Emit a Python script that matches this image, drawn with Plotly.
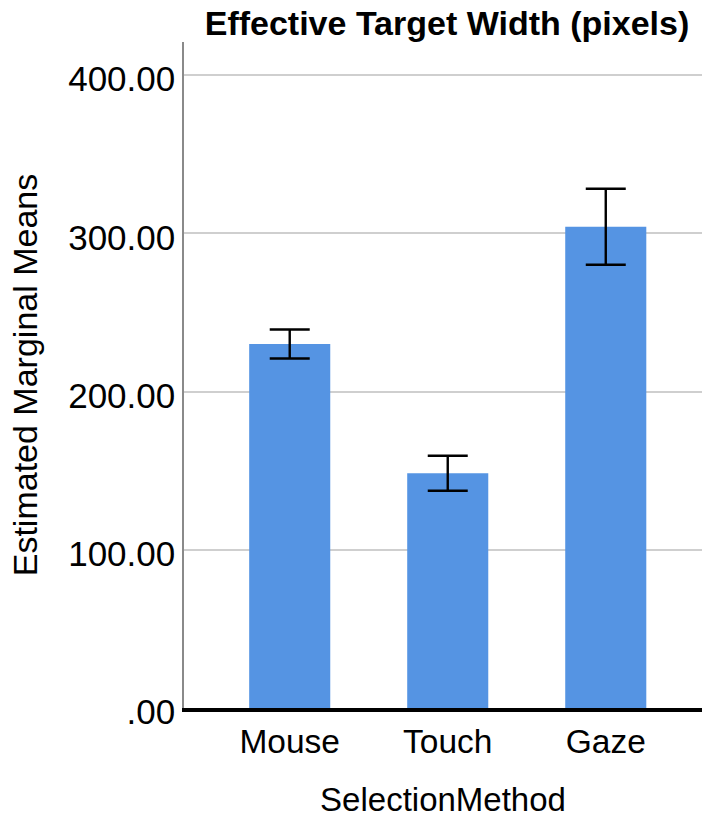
import plotly.graph_objects as go

# Estimated marginal means of effective target width by selection method
methods = ["Mouse", "Touch", "Gaze"]
means = [230.1, 148.4, 304.2]
ci_half = [9.2, 11.1, 24.0]

y_tick_vals = [0, 100, 200, 300, 400]
y_tick_text = [".00", "100.00", "200.00", "300.00", "400.00"]

FONT = "Liberation Sans, Arial, sans-serif"

fig = go.Figure()
fig.add_trace(go.Bar(
    x=methods,
    y=means,
    width=0.513,
    marker=dict(color="#5594E3", line=dict(width=0)),
    error_y=dict(type="data", array=ci_half, visible=True,
                 color="black", thickness=2.4, width=20),
))

fig.update_layout(
    width=702, height=818,
    margin=dict(l=184, r=0, t=42, b=110),
    paper_bgcolor="white", plot_bgcolor="white",
    showlegend=False,
    font=dict(family=FONT, color="black"),
    title=dict(
        text="<b>Effective Target Width (pixels)</b>",
        font=dict(family=FONT, size=34, color="black"),
        x=447 / 702, xref="container", xanchor="center",
        y=1 - 23 / 818, yref="container", yanchor="middle",
    ),
    xaxis=dict(
        range=[-0.669, 2.609],
        showgrid=False,
        showline=True, linecolor="black", linewidth=4,
        ticks="", tickfont=dict(size=33.5),
        ticklabelstandoff=1,
        title=dict(text="SelectionMethod", font=dict(size=33), standoff=33),
        zeroline=False,
    ),
    yaxis=dict(
        range=[0, 421],
        tickvals=y_tick_vals, ticktext=y_tick_text,
        tickfont=dict(size=35),
        ticks="", ticklabelstandoff=0, ticklabelshift=4,
        showgrid=True, gridcolor="#cfcfcf", gridwidth=1.5,
        showline=True, linecolor="#8a8a8a", linewidth=1.5,
        zeroline=False,
        title=dict(text="Estimated Marginal Means", font=dict(size=34), standoff=20),
    ),
)

fig.write_html("out.html")
